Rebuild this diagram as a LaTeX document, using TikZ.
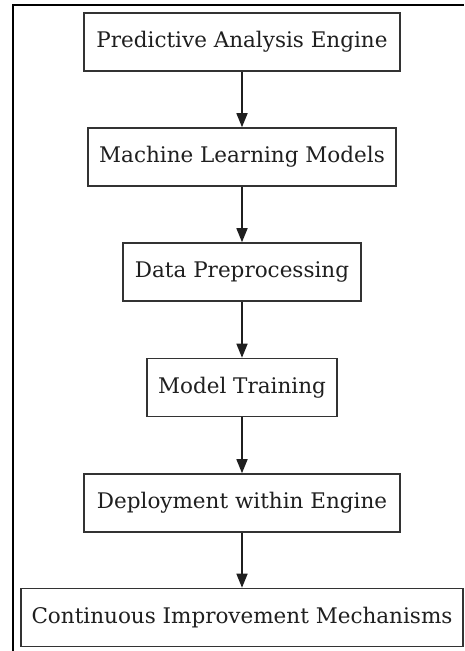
\documentclass[tikz,border=0pt]{standalone}
\usepackage{fontspec}
\setmainfont{DejaVu Serif}
\usetikzlibrary{arrows.meta}
\begin{document}
\begin{tikzpicture}[x=1pt,y=-1pt,
  stagebox/.style={draw=black!80, line width=1.6pt, fill=white, minimum height=58pt,
    inner xsep=0pt, text=black!88, font=\fontsize{21.5}{24}\selectfont},
  flow/.style={draw=black!88, line width=1.6pt, -{Triangle[length=14pt,width=11pt]}}]
\useasboundingbox (0,0) rectangle (464,651);
% outer frame, only its left and top edges fall inside the page
\draw[line width=2pt] (13,651) -- (13,5) -- (464,5);
\node[stagebox, minimum width=316pt] (pae) at (242,42) {Predictive Analysis Engine};
\node[stagebox, minimum width=308pt] (mlm) at (242,157) {Machine Learning Models};
\node[stagebox, minimum width=238pt] (dp) at (242,272) {Data Preprocessing};
\node[stagebox, minimum width=190pt] (mt) at (242,387.5) {Model Training};
\node[stagebox, minimum width=316pt] (dwe) at (242,503) {Deployment within Engine};
\node[stagebox, minimum width=442pt] (cim) at (242,617.5) {Continuous Improvement Mechanisms};
\draw[flow] (pae) -- (mlm);
\draw[flow] (mlm) -- (dp);
\draw[flow] (dp) -- (mt);
\draw[flow] (mt) -- (dwe);
\draw[flow] (dwe) -- (cim);
\end{tikzpicture}
\end{document}
